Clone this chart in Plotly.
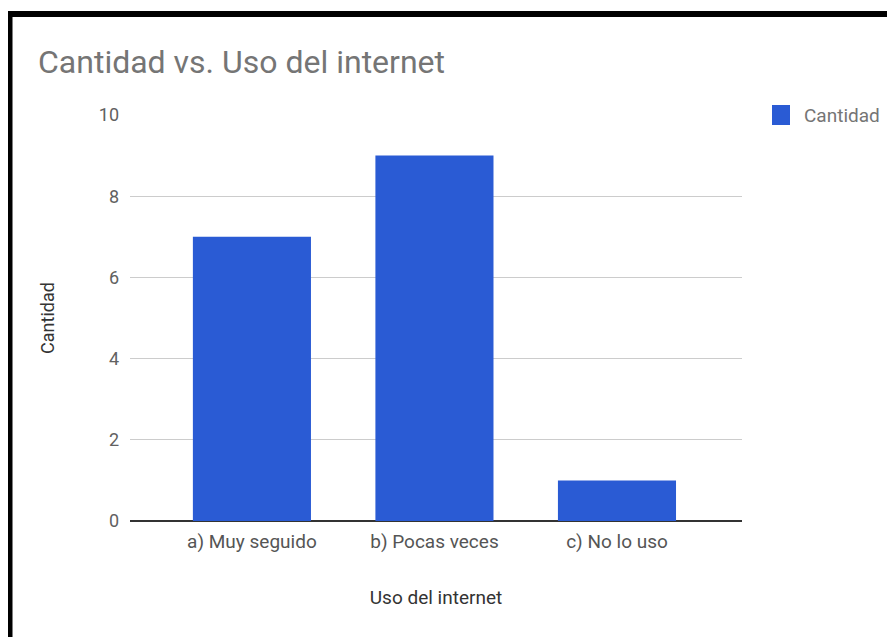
import plotly.graph_objects as go

categories = ["a) Muy seguido", "b) Pocas veces", "c) No lo uso"]
cantidad = [7, 9, 1]
y_ticks = [0, 2, 4, 6, 8, 10]

# page has an 8px body margin, so the figure is drawn 8px in from the edge
W, H = 887, 629
L, T = 122, 107
PW, PH = 612, 406
R, B = W - L - PW, H - T - PH

def px_x(px):
    return (px - L) / PW

def px_y(py):
    return 1 - (py - T) / PH

BLUE = "#2a5bd4"

fig = go.Figure()
fig.add_trace(go.Bar(
    x=categories, y=cantidad, name="Cantidad", showlegend=False,
    marker=dict(color=BLUE, line=dict(width=0)),
))

fig.update_layout(
    width=W, height=H,
    margin=dict(l=L, r=R, t=T, b=B),
    paper_bgcolor="white", plot_bgcolor="white",
    font=dict(family="Roboto", color="#616161"),
    bargap=0.353,
    title=dict(text="Cantidad vs. Uso del internet", x=30 / W, xanchor="left",
               y=1 - 54 / H, yanchor="middle", yref="container",
               font=dict(size=32, color="#757575", family="Roboto")),
    showlegend=False,
    xaxis=dict(range=[-0.668, 2.685], showgrid=False, zeroline=False,
               showline=False, ticks="", ticklabelstandoff=7,
               tickfont=dict(size=19, color="#555555"),
               title=dict(text="Uso del internet", font=dict(size=19, color="#333333"), standoff=38)),
    yaxis=dict(range=[0, 10], tickvals=y_ticks, showgrid=True, gridcolor="#cccccc",
               gridwidth=1, zeroline=True, zerolinecolor="#333333", zerolinewidth=1.5,
               showline=False, ticks="", ticklabelstandoff=10,
               tickfont=dict(size=18, color="#616161"),
               title=dict(text="Cantidad", font=dict(size=18, color="#333333"), standoff=39)),
)

# legend (drawn manually to match the larger swatch)
fig.add_shape(type="rect", xref="paper", yref="paper",
              x0=px_x(764), x1=px_x(782), y0=px_y(97), y1=px_y(117),
              fillcolor=BLUE, line=dict(width=0))
fig.add_annotation(text="Cantidad", xref="paper", yref="paper",
                   x=px_x(794), y=px_y(107), xanchor="left", yanchor="middle",
                   showarrow=False, font=dict(size=19, color="#757575", family="Roboto"))

# black frame around screenshot
fig.add_shape(type="line", xref="paper", yref="paper",
              x0=px_x(1), x1=px_x(1), y0=px_y(3), y1=px_y(700),
              line=dict(color="black", width=7), layer="above")
fig.add_shape(type="line", xref="paper", yref="paper",
              x0=px_x(-3), x1=px_x(950), y0=px_y(6), y1=px_y(6),
              line=dict(color="black", width=6), layer="above")

fig.write_html("out.html")
